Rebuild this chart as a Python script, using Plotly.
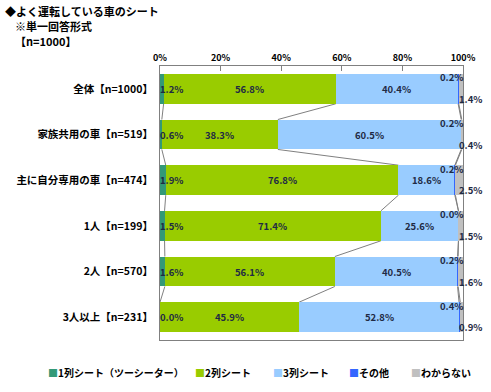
import plotly.graph_objects as go

categories = ["全体【n=1000】", "家族共用の車【n=519】", "主に自分専用の車【n=474】",
              "1人【n=199】", "2人【n=570】", "3人以上【n=231】"]
series_names = ["1列シート（ツーシーター）", "2列シート", "3列シート", "その他", "わからない"]
seat1 = [1.2, 0.6, 1.9, 1.5, 1.6, 0.0]
seat2 = [56.8, 38.3, 76.8, 71.4, 56.1, 45.9]
seat3 = [40.4, 60.5, 18.6, 25.6, 40.5, 52.8]
other = [0.2, 0.2, 0.2, 0.0, 0.2, 0.4]
unknown = [1.4, 0.4, 2.5, 1.5, 1.6, 0.9]
x_ticks = [0, 20, 40, 60, 80, 100]
x_tick_labels = ["0%", "20%", "40%", "60%", "80%", "100%"]
colors = ["#339977", "#99CC00", "#99CCFF", "#3366FF", "#C0C0C0"]

series = [seat1, seat2, seat3, other, unknown]
FONT = "Noto Sans CJK JP, Noto Sans, sans-serif"
LBL = "#1F2A44"
BW = 0.656

fig = go.Figure()
for name, vals, col in zip(series_names, series, colors):
    fig.add_trace(go.Bar(
        y=categories, x=vals, name=name, orientation="h",
        marker=dict(color=col, line=dict(width=0)),
        width=BW, hoverinfo="x+name", showlegend=False,
    ))

n = len(categories)
cums = []
for i in range(n):
    c, row = 0, []
    for s in series:
        c += s[i]
        row.append(c)
    cums.append(row)

shapes = []
for i in range(n - 1):
    for k in range(4):
        shapes.append(dict(type="line", xref="x", yref="y",
                           x0=cums[i][k], y0=i + BW / 2,
                           x1=cums[i + 1][k], y1=i + 1 - BW / 2,
                           line=dict(color="#808080", width=1), layer="below"))

annotations = []
lf = dict(family=FONT, size=9.5, color=LBL)
for i in range(n):
    annotations.append(dict(x=0, y=i, xref="x", yref="y", text=f"<b>{seat1[i]:.1f}%</b>",
                            showarrow=False, xanchor="left", xshift=-2, font=lf))
    annotations.append(dict(x=seat1[i] + seat2[i] / 2, y=i, xref="x", yref="y",
                            text=f"<b>{seat2[i]:.1f}%</b>", showarrow=False, font=lf))
    annotations.append(dict(x=cums[i][1] + seat3[i] / 2, y=i, xref="x", yref="y",
                            text=f"<b>{seat3[i]:.1f}%</b>", showarrow=False, font=lf))
    annotations.append(dict(x=100, y=i - 0.25, xref="x", yref="y",
                            text=f"<b>{other[i]:.1f}%</b>", showarrow=False,
                            xanchor="right", xshift=2, font=lf))
    annotations.append(dict(x=100, y=i + 0.22, xref="x", yref="y",
                            text=f"<b>{unknown[i]:.1f}%</b>", showarrow=False,
                            xanchor="left", xshift=-6, font=lf))

def px2paper_x(px):
    return (px - 160) / 303
def px2paper_y(py):
    return (340 - py) / 274

tf = dict(family=FONT, size=11, color="#000000")
for txt, px, py in [("<b>◆よく運転している車のシート</b>", 3, 11),
                    ("<b>※単一回答形式</b>", 13, 26),
                    ("<b>【n=1000】</b>", 13, 41)]:
    annotations.append(dict(x=px2paper_x(px), y=px2paper_y(py), xref="paper", yref="paper",
                            text=txt, showarrow=False, xanchor="left", yanchor="middle",
                            font=tf))

# legend drawn as text entries under the plot
legend_x = [46, 193, 271, 347, 409]
for name, col, lx in zip(series_names, colors, legend_x):
    annotations.append(dict(x=px2paper_x(lx), y=px2paper_y(372), xref="paper", yref="paper",
                            text=f"<span style='color:{col}'>■</span><b>{name}</b>",
                            showarrow=False, xanchor="left", yanchor="middle",
                            font=dict(family=FONT, size=10, color="#000000")))

fig.update_layout(
    width=491, height=392,
    margin=dict(l=160, r=28, t=66, b=52, autoexpand=False),
    barmode="stack", bargap=1 - BW,
    plot_bgcolor="white", paper_bgcolor="white",
    font=dict(family=FONT, size=10, color="#000000"),
    showlegend=False,
    shapes=shapes,
    annotations=annotations,
)
fig.update_xaxes(range=[0, 100], side="top", tickvals=x_ticks,
                 ticktext=[f"<b>{t}</b>" for t in x_tick_labels],
                 ticks="inside", ticklen=5, tickcolor="#808080",
                 showgrid=False, zeroline=False, automargin=False,
                 showline=True, linecolor="#808080", linewidth=1, mirror=True,
                 tickfont=dict(family=FONT, size=9, color="#000000"), fixedrange=True)
fig.update_yaxes(autorange="reversed", categoryorder="array", categoryarray=categories,
                 tickvals=categories, ticktext=[f"<b>{c}</b>" for c in categories],
                 showgrid=False, showline=True, linecolor="#808080", linewidth=1, mirror=True,
                 ticks="", ticklabelstandoff=4, automargin=False,
                 tickfont=dict(family=FONT, size=10.5, color="#000000"), fixedrange=True)

fig.write_html("out.html", config={"displayModeBar": False},
               post_script="document.body.style.margin='0';document.body.style.overflow='hidden';")
